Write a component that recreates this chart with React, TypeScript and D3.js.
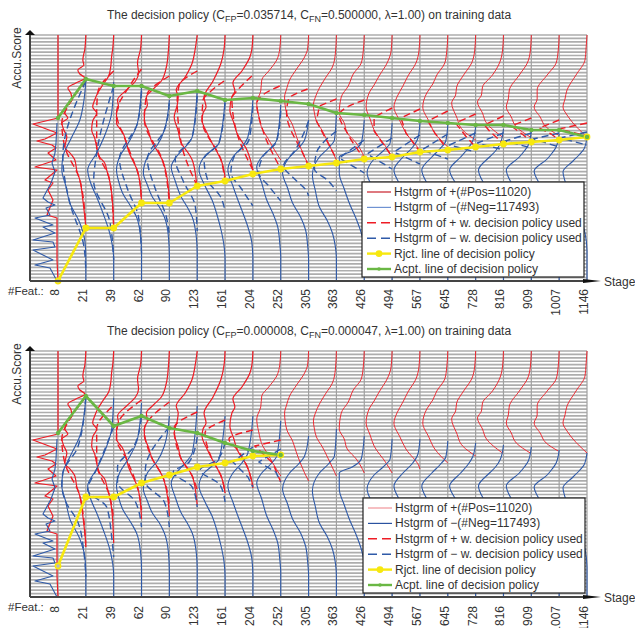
import React from "react";
import * as d3 from "d3";

type Pt = [number, number];

// feature count at each stage
const stages = ["8", "21", "39", "62", "90", "123", "161", "204", "252", "305", "363", "426", "494", "567", "645", "728", "816", "909", "1007", "1146"];

// decision policy lines, in score units
const acceptTop = [163, 202, 195, 195, 185, 190, 181, 183, 180, 177, 168, 166, 163, 160, 158, 156, 156, 151, 151, 144];
const rejectTop = [0, 53, 53, 78, 78, 95, 100, 107, 112, 115, 118, 122, 124, 129, 131, 134, 137, 139, 141, 144];
const acceptBottom = [164, 201, 171, 181, 169, 164, 154, 146, 142];
const rejectBottom = [31, 100, 100, 114, 122, 130, 134, 141, 142];

// histogram of positives, [score, count] per stage
const posHist: Pt[][] = [
  [[246, 0], [163, 0], [157, 25], [148, 1], [142, 13], [140, 21], [136, 6], [133, 2], [128, 10], [121, 2], [114, 23], [111, 1], [101, 13], [98, 5], [91, 10], [81, 5], [66, 11], [63, 1], [44, 1], [21, 1], [0, 0]],
  [[246, 0], [232, 1], [221, 3], [216, 2], [211, 8], [207, 6], [203, 1], [198, 10], [193, 18], [188, 15], [181, 14], [175, 19], [168, 21], [163, 18], [158, 24], [151, 22], [144, 19], [134, 21], [127, 15], [121, 11], [110, 9], [101, 6], [81, 3], [54, 0]],
  [[246, 0], [232, 1], [225, 2], [214, 3], [205, 5], [196, 11], [188, 16], [181, 19], [174, 21], [168, 17], [160, 21], [151, 22], [143, 19], [134, 17], [124, 14], [118, 9], [111, 7], [100, 4], [88, 2], [54, 0]],
  [[246, 0], [232, 1], [218, 4], [208, 3], [200, 6], [191, 15], [181, 24], [174, 23], [168, 25], [158, 25], [149, 19], [138, 15], [130, 13], [121, 9], [110, 4], [101, 2], [78, 0]],
  [[246, 0], [230, 1], [214, 3], [200, 8], [192, 16], [184, 23], [176, 22], [169, 25], [161, 25], [150, 21], [138, 17], [130, 12], [121, 7], [101, 2], [81, 0]],
  [[246, 0], [232, 2], [218, 5], [204, 12], [191, 21], [184, 19], [176, 20], [164, 23], [150, 19], [138, 16], [128, 9], [121, 5], [101, 1], [92, 0]],
  [[246, 0], [232, 1], [218, 4], [200, 12], [184, 21], [174, 19], [168, 22], [161, 23], [148, 18], [138, 13], [129, 8], [121, 4], [104, 0]],
  [[246, 0], [232, 1], [224, 3], [210, 11], [198, 20], [190, 18], [184, 21], [171, 23], [158, 19], [148, 16], [131, 6], [111, 0]],
  [[246, 0], [232, 1], [221, 4], [210, 12], [201, 19], [190, 20], [178, 24], [165, 22], [151, 18], [143, 13], [134, 8], [121, 0]],
  [[246, 0], [232, 1], [224, 4], [212, 12], [201, 19], [192, 22], [184, 24], [168, 22], [156, 16], [144, 12], [124, 4], [116, 0]],
  [[246, 0], [228, 1], [214, 4], [203, 11], [193, 17], [184, 21], [176, 23], [168, 22], [160, 20], [150, 14], [140, 9], [121, 0]],
  [[246, 0], [230, 1], [218, 3], [207, 11], [195, 16], [184, 23], [168, 25], [158, 20], [148, 17], [138, 8], [124, 0]],
  [[246, 0], [230, 1], [218, 5], [205, 13], [196, 18], [188, 23], [174, 26], [162, 22], [151, 18], [134, 6], [124, 0]],
  [[246, 0], [230, 1], [218, 4], [205, 12], [195, 17], [184, 23], [174, 26], [160, 20], [148, 14], [131, 1], [128, 0]],
  [[246, 0], [230, 1], [218, 3], [206, 11], [197, 15], [188, 21], [174, 25], [160, 19], [148, 13], [134, 0]],
  [[246, 0], [230, 1], [218, 4], [206, 12], [194, 19], [186, 20], [178, 24], [164, 19], [151, 13], [141, 0]],
  [[246, 0], [230, 1], [218, 4], [206, 11], [194, 21], [186, 22], [179, 26], [168, 21], [158, 17], [144, 1]],
  [[246, 0], [230, 1], [218, 4], [206, 12], [191, 22], [182, 23], [174, 25], [164, 20], [154, 15], [144, 1]],
  [[246, 0], [230, 1], [218, 3], [206, 12], [191, 22], [182, 22], [174, 25], [164, 19], [154, 13], [146, 1]],
  [[246, 0], [232, 1], [221, 2], [206, 11], [191, 20], [182, 22], [174, 24], [166, 20], [158, 14], [144, 0]],
];

// histogram of negatives
const negHist: Pt[][] = [
  [[158, 1], [138, 2], [128, 3], [118, 6], [109, 3], [98, 7], [83, 15], [79, 10], [76, 3], [73, 12], [66, 8], [63, 23], [56, 5], [54, 15], [48, 3], [41, 25], [39, 5], [34, 3], [31, 25], [21, 5], [16, 23], [13, 8], [0, 1]],
  [[201, 0], [180, 2], [161, 6], [142, 15], [124, 23], [111, 24], [95, 20], [78, 16], [58, 6], [40, 1], [24, 0], [0, 0]],
  [[199, 0], [168, 2], [148, 8], [128, 17], [111, 26], [98, 23], [84, 17], [66, 10], [48, 4], [21, 0], [0, 0]],
  [[194, 0], [158, 4], [140, 12], [124, 22], [111, 25], [100, 23], [88, 19], [75, 11], [64, 5], [45, 1], [28, 0], [0, 0]],
  [[181, 0], [151, 5], [136, 12], [124, 22], [108, 26], [96, 22], [84, 17], [74, 10], [64, 5], [45, 1], [24, 0], [0, 0]],
  [[191, 0], [144, 5], [134, 12], [124, 21], [114, 26], [100, 22], [84, 16], [74, 10], [64, 5], [45, 1], [28, 0], [0, 0]],
  [[181, 0], [138, 6], [131, 13], [124, 21], [111, 26], [95, 20], [81, 13], [66, 8], [51, 4], [35, 1], [21, 0], [0, 0]],
  [[181, 0], [144, 5], [134, 11], [124, 20], [111, 25], [95, 20], [81, 15], [68, 10], [54, 5], [38, 1], [21, 0], [0, 0]],
  [[176, 0], [141, 4], [133, 10], [124, 19], [114, 24], [98, 19], [81, 14], [68, 8], [54, 3], [38, 1], [24, 0], [0, 0]],
  [[161, 0], [141, 4], [133, 10], [124, 19], [108, 26], [93, 21], [78, 16], [64, 8], [51, 3], [36, 1], [21, 0], [0, 0]],
  [[168, 0], [141, 2], [133, 8], [124, 17], [106, 24], [90, 21], [74, 17], [60, 9], [48, 4], [34, 1], [21, 0], [0, 0]],
  [[161, 0], [138, 3], [130, 12], [124, 25], [108, 25], [92, 20], [78, 15], [62, 8], [48, 3], [31, 0], [0, 0]],
  [[158, 0], [138, 2], [130, 9], [122, 18], [108, 25], [92, 19], [78, 14], [62, 7], [48, 3], [30, 0], [0, 0]],
  [[158, 0], [143, 2], [133, 8], [124, 17], [111, 26], [94, 19], [78, 13], [62, 6], [48, 2], [30, 0], [0, 0]],
  [[156, 0], [140, 2], [132, 8], [124, 16], [111, 26], [94, 19], [78, 13], [62, 6], [48, 2], [30, 0], [0, 0]],
  [[154, 0], [140, 3], [132, 8], [124, 15], [111, 26], [94, 18], [78, 12], [62, 6], [48, 2], [30, 0], [0, 0]],
  [[152, 0], [138, 3], [130, 8], [124, 14], [111, 25], [94, 18], [78, 12], [62, 6], [48, 2], [30, 0], [0, 0]],
  [[150, 0], [136, 3], [130, 7], [124, 12], [111, 25], [94, 18], [78, 12], [62, 6], [48, 2], [30, 0], [0, 0]],
  [[147, 0], [134, 3], [128, 7], [122, 12], [110, 25], [94, 18], [78, 12], [62, 6], [48, 2], [30, 0], [0, 0]],
  [[144, 0], [132, 3], [126, 8], [120, 14], [109, 24], [100, 22], [78, 12], [62, 6], [48, 2], [30, 0], [0, 0]],
];

// histograms with the decision policy used, first panel
const posUsedTop: Pt[][] = [
  [],
  [[200, 0], [181, 14], [158, 24], [134, 21], [101, 6], [54, 0]],
  [[210, 0], [188, 16], [168, 17], [134, 17], [101, 4], [54, 0]],
  [[212, 0], [195, 12], [168, 25], [138, 15], [101, 2], [78, 0]],
  [[205, 0], [185, 23], [161, 25], [121, 7], [78, 0]],
  [[210, 0], [196, 18], [180, 20], [138, 16], [95, 0]],
  [[200, 1], [190, 14], [181, 22], [161, 23], [121, 4], [100, 0]],
  [[205, 1], [190, 16], [183, 21], [148, 16], [111, 0]],
  [[195, 1], [186, 18], [178, 24], [151, 18], [112, 0]],
  [[192, 1], [182, 20], [168, 22], [124, 4], [115, 0]],
  [[182, 0], [175, 17], [160, 20], [122, 0]],
  [[181, 0], [174, 17], [166, 25], [148, 17], [122, 0]],
  [[173, 0], [164, 18], [150, 18], [124, 0]],
  [[172, 0], [163, 19], [148, 14], [129, 0]],
  [[170, 0], [160, 20], [148, 13], [131, 0]],
  [[167, 0], [158, 20], [145, 10], [134, 0]],
  [[165, 0], [156, 19], [150, 14], [137, 0]],
  [[163, 0], [155, 20], [146, 8], [139, 0]],
  [[161, 0], [153, 20], [147, 8], [141, 0]],
  [[158, 0], [152, 28], [147, 8], [144, 0]],
];

const negUsedTop: Pt[][] = [
  [],
  [[200, 0], [124, 23], [78, 16], [35, 2], [10, 0]],
  [[195, 0], [128, 17], [100, 20], [60, 4], [21, 0]],
  [[190, 0], [158, 4], [122, 22], [92, 14], [64, 3], [28, 0]],
  [[178, 0], [151, 5], [122, 22], [92, 14], [64, 3], [45, 0]],
  [[185, 0], [144, 5], [122, 22], [100, 14], [75, 2], [50, 0]],
  [[178, 0], [138, 6], [122, 21], [100, 17], [85, 5], [70, 0]],
  [[175, 0], [141, 4], [124, 19], [108, 22], [93, 12], [75, 0]],
  [[170, 0], [140, 4], [124, 18], [108, 22], [95, 12], [80, 0]],
  [[160, 0], [130, 14], [115, 25], [103, 15], [90, 2], [85, 0]],
  [[150, 0], [128, 20], [112, 22], [100, 8], [90, 0]],
  [[141, 0], [123, 25], [108, 0]],
  [[143, 0], [127, 25], [112, 0]],
  [[146, 0], [129, 26], [117, 0]],
  [[147, 0], [131, 26], [122, 0]],
  [[148, 0], [136, 26], [129, 0]],
  [[148, 0], [138, 26], [131, 0]],
  [[148, 0], [140, 26], [133, 0]],
  [[148, 0], [142, 26], [134, 0]],
  [[149, 0], [143, 27], [136, 0]],
];

// histograms with the decision policy used, second panel
const posUsedBottom: Pt[][] = [
  [],
  [[200, 0], [181, 14], [158, 24], [134, 21], [101, 6], [50, 0]],
  [[190, 2], [168, 17], [134, 17], [101, 4], [77, 0]],
  [[197, 0], [172, 24], [158, 25], [138, 15], [101, 2], [87, 0]],
  [[195, 0], [167, 25], [138, 17], [121, 7], [91, 0]],
  [[185, 0], [169, 23], [138, 16], [121, 5], [107, 0]],
  [[177, 0], [164, 20], [138, 13], [121, 4], [104, 0]],
  [[167, 0], [158, 24], [148, 16], [131, 6], [109, 0]],
  [[157, 0], [151, 26], [134, 8], [115, 0]],
];

const negUsedBottom: Pt[][] = [
  [],
  [[200, 0], [150, 8], [124, 23], [111, 24], [95, 20], [75, 8], [45, 2], [20, 0]],
  [[170, 0], [128, 17], [107, 26], [90, 7], [60, 2], [40, 0]],
  [[180, 0], [150, 8], [130, 24], [115, 24], [95, 6], [70, 0]],
  [[170, 0], [127, 24], [115, 24], [95, 5], [70, 0]],
  [[160, 0], [135, 8], [125, 24], [110, 5], [90, 0]],
  [[155, 0], [138, 7], [127, 25], [112, 5], [95, 0]],
  [[150, 0], [135, 20], [120, 5], [110, 0]],
  [[148, 0], [135, 22], [125, 5], [115, 0]],
];

const legendLabels = [
  "Hstgrm of +(#Pos=11020)",
  "Hstgrm of \u2212(#Neg=117493)",
  "Hstgrm of + w. decision policy used",
  "Hstgrm of \u2212 w. decision policy used",
  "Rjct. line of decision policy",
  "Acpt. line of decision policy",
];

const RED = "#ee1c25";
const BLUE = "#2f5aa8";
const YELLOW = "#f7e80e";
const GREEN = "#6ab744";
const TEXT = "#333";
const gridRows = 72;

function Panel(props: any) {
  const { top, cFP, cFN, accept, reject, posUsed, negUsed, legendX, legendY, solidLegend, labelGap } = props;
  const height = 246;
  const y = d3.scaleLinear().domain([0, height]).range([top + height, top]);
  const x = d3.scalePoint().domain(stages).range([58, 587]);
  const hist = d3.scaleLinear().domain([0, 28]).range([0, -28]);
  // stage 8 is spiky, everything else is a smooth-ish histogram outline
  const histPath = (i: number, pts: Pt[]) =>
    d3.line<Pt>()
      .x((d) => x(stages[i])! + hist(d[1]))
      .y((d) => y(d[0]))
      .curve(i === 0 || pts.length <= 4 ? d3.curveLinear : d3.curveMonotoneY)(pts) || "";
  const policy = d3.line<number>()
    .x((_, i) => x(stages[i])!)
    .y((d) => y(d));
  const rowY = d3.scalePoint().domain(d3.range(6).map(String)).range([legendY + 10, legendY + 87]);
  const bottom = top + height;

  return (
    <g>
      <text x={309} y={top - 16} textAnchor="middle" fontSize={12} fill={TEXT}>
        The decision policy (C<tspan dy={3} fontSize={9}>FP</tspan><tspan dy={-3}>={cFP}, C</tspan>
        <tspan dy={3} fontSize={9}>FN</tspan><tspan dy={-3}>={cFN}, λ=1.00) on training data</tspan>
      </text>
      {d3.range(gridRows + 1).map((i) => (
        <line key={i} x1={30} x2={587} y1={y((i * height) / gridRows)} y2={y((i * height) / gridRows)} stroke="#adadad" strokeWidth={1.7} />
      ))}
      {stages.map((s) => (
        <line key={s} x1={x(s)} x2={x(s)} y1={top} y2={bottom} stroke="#a0a0a0" strokeWidth={1.2} />
      ))}
      <g fill="none" strokeLinejoin="round">
        {posHist.map((pts, i) => (
          <path key={i} d={histPath(i, pts)} stroke={RED} strokeWidth={i < 8 ? 1.2 : 0.9} />
        ))}
        {negHist.map((pts, i) => (
          <path key={i} d={histPath(i, pts)} stroke={BLUE} strokeWidth={1.1} />
        ))}
        {posUsed.map((pts: Pt[], i: number) => (
          <path key={i} d={histPath(i, pts)} stroke={RED} strokeWidth={1.4} strokeDasharray="7 4" />
        ))}
        {negUsed.map((pts: Pt[], i: number) => (
          <path key={i} d={histPath(i, pts)} stroke={BLUE} strokeWidth={1.4} strokeDasharray="7 4" />
        ))}
        <path d={policy(reject) || ""} stroke={YELLOW} strokeWidth={2.6} />
        <path d={policy(accept) || ""} stroke={GREEN} strokeWidth={2.6} />
      </g>
      {reject.map((d: number, i: number) => (
        <circle key={i} cx={x(stages[i])} cy={y(d)} r={i === 0 ? 2.6 : 3.4} fill={i === 0 ? "#bbb" : YELLOW} stroke={YELLOW} strokeWidth={i === 0 ? 1.6 : 0} />
      ))}
      {accept.map((d: number, i: number) => (
        <circle key={i} cx={x(stages[i])} cy={y(d)} r={2.2} fill={GREEN} />
      ))}

      <path d={`M30,${bottom}V${top}M30,${bottom}H590`} stroke="#444" strokeWidth={2} fill="none" />
      <path d={`M25,${top}L30,${top - 5}L35,${top}Z`} fill="#111" />
      <path d={`M583,${bottom - 2}L601,${bottom}L583,${bottom + 2}Z`} fill="#111" />
      <text transform={`translate(21,${top + 23}) rotate(-90)`} textAnchor="middle" fontSize={12} fill={TEXT}>Accu.Score</text>
      <text x={8} y={bottom + 14} fontSize={11.5} fill={TEXT}>#Feat.:</text>
      <text x={604} y={bottom + 5} fontSize={12} fill={TEXT}>Stage</text>
      {stages.map((s) => (
        <text key={s} transform={`translate(${x(s)! + 1},${bottom + labelGap}) rotate(-90)`} textAnchor="end" fontSize={12} fill={TEXT}>{s}</text>
      ))}

      <rect x={legendX} y={legendY} width={222} height={95} fill="#fff" stroke="#222" strokeWidth={1.2} />
      {legendLabels.map((label, i) => {
        const ly = rowY(String(i))!;
        const lx = legendX + 5;
        return (
          <g key={label}>
            {i < 2 && <line x1={lx} x2={lx + 24} y1={ly} y2={ly} stroke={solidLegend[i]} strokeWidth={1.2} />}
            {i >= 2 && i < 4 && <line x1={lx} x2={lx + 24} y1={ly} y2={ly} stroke={i === 2 ? RED : BLUE} strokeWidth={1.4} strokeDasharray="9 5" />}
            {i === 4 && <line x1={lx} x2={lx + 24} y1={ly} y2={ly} stroke={YELLOW} strokeWidth={2.4} />}
            {i === 4 && <circle cx={lx + 12} cy={ly} r={3.4} fill={YELLOW} />}
            {i === 5 && <line x1={lx} x2={lx + 24} y1={ly} y2={ly} stroke={GREEN} strokeWidth={2.4} />}
            {i === 5 && <circle cx={lx + 12} cy={ly} r={1.8} fill={GREEN} />}
            <text x={lx + 27} y={ly + 4} fontSize={12} fill={TEXT}>{label}</text>
          </g>
        );
      })}
    </g>
  );
}

export default function App() {
  return (
    <svg width={635} height={628} style={{ position: "absolute", left: 0, top: 0, fontFamily: "'Liberation Sans', Arial, sans-serif", background: "#fff" }}>
      <Panel top={35} cFP="0.035714" cFN="0.500000" accept={acceptTop} reject={rejectTop} posUsed={posUsedTop} negUsed={negUsedTop} legendX={362} legendY={182} solidLegend={["#c8202a", "#6f92d2"]} labelGap={8} />
      <Panel top={351} cFP="0.000008" cFN="0.000047" accept={acceptBottom} reject={rejectBottom} posUsed={posUsedBottom} negUsed={negUsedBottom} legendX={363} legendY={498} solidLegend={["#f09499", "#2a52a0"]} labelGap={9} />
    </svg>
  );
}
